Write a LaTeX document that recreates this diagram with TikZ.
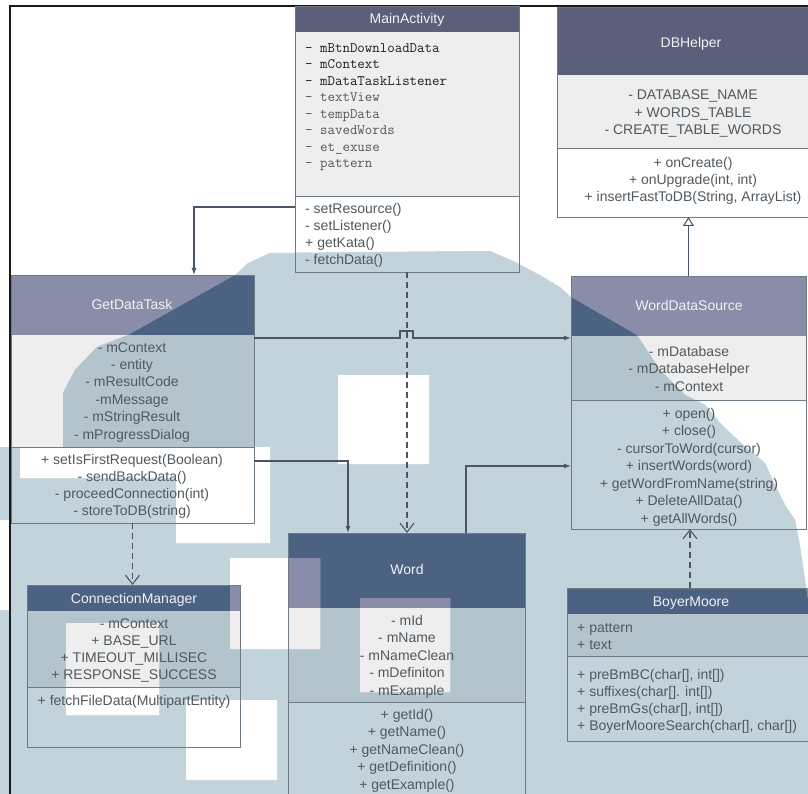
\documentclass[tikz,border=0pt]{standalone}
\usepackage{fontspec}
\setmainfont{Liberation Sans}
\usetikzlibrary{arrows.meta}

% palette
\definecolor{hdrdark}{HTML}{5B5F79}
\definecolor{hdrlight}{HTML}{8A8DA7}
\definecolor{attrbg}{HTML}{EEEEEE}
\definecolor{methbg}{HTML}{FFFFFF}
\definecolor{ovbg}{HTML}{C3D3DB}
\definecolor{ovhdr}{HTML}{4B6282}
\definecolor{ovattr}{HTML}{B4C4CD}
\definecolor{boxline}{HTML}{6E7A84}
\definecolor{connc}{HTML}{4A5666}
\definecolor{txtgray}{HTML}{50595F}
\definecolor{txtdark}{HTML}{1E1E1E}
\definecolor{hdrtext}{HTML}{F0F2F5}
\definecolor{framec}{HTML}{1A1A1A}

% section fills of every class box: #1 top headers, #2 other headers, #3 attributes, #4 methods
\newcommand\boxfills[4]{%
  \fill[#1] (295,6) rectangle (519,32);
  \fill[#3] (295,32) rectangle (519,196);
  \fill[#4] (295,196) rectangle (519,272);
  \fill[#1] (557,7) rectangle (822,75);
  \fill[#3] (557,75) rectangle (822,148);
  \fill[#4] (557,148) rectangle (822,217);
  \fill[#2] (11,275) rectangle (254,335);
  \fill[#3] (11,335) rectangle (254,447);
  \fill[#4] (11,447) rectangle (254,523);
  \fill[#2] (571,276) rectangle (806,336);
  \fill[#3] (571,336) rectangle (806,400);
  \fill[#4] (571,400) rectangle (806,529);
  \fill[#2] (288,533) rectangle (525,608);
  \fill[#3] (288,608) rectangle (525,702);
  \fill[#4] (288,702) rectangle (525,810);
  \fill[#2] (27,585) rectangle (240,611);
  \fill[#3] (27,611) rectangle (240,687);
  \fill[#4] (27,687) rectangle (240,747);
  \fill[#2] (567,588) rectangle (815,614);
  \fill[#3] (567,614) rectangle (815,656);
  \fill[#4] (567,656) rectangle (815,741);
}

% one text line per node: #1 name prefix, #2 x, #3 first baseline, #4 line step, #5 anchor, #6 style, #7 lines
\newcommand\textlines[7]{%
  \foreach \lntxt [count=\i] in {#7}
    \node[#6, anchor=#5] (#1\i) at (#2,{#3+(\i-1)*#4}) {\lntxt};
}

\tikzset{
  box/.style={draw=boxline, line width=0.9pt, inner sep=0pt, outer sep=0pt, anchor=north west},
  divider/.style={draw=boxline, line width=0.9pt},
  txt/.style={font=\fontsize{14}{17}\selectfont, text=txtgray, inner sep=0pt},
  mono/.style={font=\ttfamily\fontsize{14.5}{16}\selectfont, text=txtgray, inner sep=0pt},
  monodark/.style={mono, text=txtdark},
  title/.style={font=\fontsize{14}{17}\selectfont, text=hdrtext, inner sep=0pt, anchor=base},
  conn/.style={draw=connc, line width=1.2pt, -{Latex[length=7pt,width=5pt]}},
  dep/.style={draw=connc, line width=1.1pt, dash pattern=on 6pt off 4pt,
    -{Straight Barb[length=9pt,width=14pt]}},
  inh/.style={draw=connc, line width=1pt, -{Triangle[open,length=9pt,width=11pt,fill=white]}},
  blob/.style={insert path={(270,253) -- (490,251) -- (515,262) -- (540,275) -- (560,287)
    -- (571,297) -- (637,335) -- (660,370) -- (685,395) -- (705,405) -- (722,425)
    -- (740,442) -- (765,463) -- (775,485) -- (785,505) -- (795,520) -- (800,545)
    -- (808,600) -- (808,794) -- (0,794) -- (0,447) -- (63,447) -- (63,393)
    -- (75,370) -- (97,347) -- (128,335) -- (235,275) -- (248,263) -- cycle}},
  holes/.style={insert path={(20,447) rectangle (270,478) (176,447) rectangle (270,543)
    (338,375) rectangle (429,464) (230,558) rectangle (320,649)
    (360,598) rectangle (450,692) (66,623) rectangle (159,715)
    (186,700) rectangle (277,780) (0,520) rectangle (10,610)}}
}

\begin{document}
\begin{tikzpicture}[x=1pt, y=-1pt]
\useasboundingbox (0,0) rectangle (808,794);
\clip (0,0) rectangle (808,794);

% plain sheet and box sections
\fill[white] (0,0) rectangle (808,794);
\boxfills{hdrdark}{hdrlight}{attrbg}{methbg}

% tinted blocky region
\begin{scope}
  \clip[blob];
  \fill[ovbg] (0,0) rectangle (808,794);
  \boxfills{ovhdr}{ovhdr}{ovattr}{ovbg}
\end{scope}

% untinted squares inside it
\begin{scope}
  \clip[holes];
  \fill[white] (0,0) rectangle (808,794);
  \boxfills{hdrdark}{hdrlight}{attrbg}{methbg}
\end{scope}

% sheet frame
\draw[framec, line width=1.8pt] (10,794) -- (10,6) -- (808,6);

% class boxes
\node[box, minimum width=224pt, minimum height=266pt] (mainact) at (295,6) {};
\node[box, minimum width=265pt, minimum height=210pt] (dbh) at (557,7) {};
\node[box, minimum width=243pt, minimum height=248pt] (gdt) at (11,275) {};
\node[box, minimum width=235pt, minimum height=253pt] (wds) at (571,276) {};
\node[box, minimum width=237pt, minimum height=277pt] (word) at (288,533) {};
\node[box, minimum width=213pt, minimum height=162pt] (cm) at (27,585) {};
\node[box, minimum width=248pt, minimum height=153pt] (bm) at (567,588) {};

% attribute / method separators
\draw[divider] (295,196) -- (519,196);
\draw[divider] (557,148) -- (822,148);
\draw[divider] (11,447) -- (254,447);
\draw[divider] (571,400) -- (806,400);
\draw[divider] (288,702) -- (525,702);
\draw[divider] (27,687) -- (240,687);
\draw[divider] (567,656) -- (815,656);

% MainActivity
\node[title] (mainact-t) at (407,24) {MainActivity};
\textlines{mainact-a}{305}{52.5}{16.45}{base west}{monodark}
  {{- mBtnDownloadData},{- mContext},{- mDataTaskListener}}
\textlines{mainact-b}{305}{101.9}{16.45}{base west}{mono}
  {{- textView},{- tempData},{- savedWords},{- et\_exuse},{- pattern}}
\textlines{mainact-m}{305}{214}{16.7}{base west}{txt}
  {{- setResource()},{- setListener()},{+ getKata()},{- fetchData()}}

% DBHelper
\node[title] (dbh-t) at (691,48) {DBHelper};
\textlines{dbh-a}{693}{100}{17.5}{base}{txt}
  {{- DATABASE\_NAME},{+ WORDS\_TABLE},{- CREATE\_TABLE\_WORDS}}
\textlines{dbh-m}{693}{168}{17}{base}{txt}
  {{+ onCreate()},{+ onUpgrade(int, int)},{+ insertFastToDB(String, ArrayList)}}

% GetDataTask
\node[title] (gdt-t) at (132,309) {GetDataTask};
\textlines{gdt-a}{132}{352}{17.4}{base}{txt}
  {{- mContext},{- entity},{- mResultCode},{-mMessage},{- mStringResult},{- mProgressDialog}}
\textlines{gdt-m}{132}{464}{17.3}{base}{txt}
  {{+ setIsFirstRequest(Boolean)},{- sendBackData()},{- proceedConnection(int)},{- storeToDB(string)}}

% WordDataSource
\node[title] (wds-t) at (689,310) {WordDataSource};
\textlines{wds-a}{689}{356}{17.5}{base}{txt}
  {{- mDatabase},{- mDatabaseHelper},{- mContext}}
\textlines{wds-m}{689}{418}{17.5}{base}{txt}
  {{+ open()},{+ close()},{- cursorToWord(cursor)},{+ insertWords(word)},
   {+ getWordFromName(string)},{+ DeleteAllData()},{+ getAllWords()}}

% Word
\node[title] (word-t) at (407,574) {Word};
\textlines{word-a}{407}{625}{17.6}{base}{txt}
  {{- mId},{- mName},{- mNameClean},{- mDefiniton},{- mExample}}
\textlines{word-m}{407}{719}{17.5}{base}{txt}
  {{+ getId()},{+ getName()},{+ getNameClean()},{+ getDefinition()},{+ getExample()}}

% ConnectionManager
\node[title] (cm-t) at (134,603) {ConnectionManager};
\textlines{cm-a}{134}{628}{17}{base}{txt}
  {{- mContext},{+ BASE\_URL},{+ TIMEOUT\_MILLISEC},{+ RESPONSE\_SUCCESS}}
\textlines{cm-m}{134}{705}{17}{base}{txt}
  {{+ fetchFileData(MultipartEntity)}}

% BoyerMoore
\node[title] (bm-t) at (691,606) {BoyerMoore};
\textlines{bm-a}{577}{632}{17.5}{base west}{txt}
  {{+ pattern},{+ text}}
\textlines{bm-m}{577}{679}{17}{base west}{txt}
  {{+ preBmBC(char[], int[])},{+ suffixes(char[]. int[])},{+ preBmGs(char[], int[])},
   {+ BoyerMooreSearch(char[], char[])}}

% routing points
\coordinate (yA) at (0,207);
\coordinate (xA) at (194,0);
\coordinate (yB) at (0,338);
\coordinate (hopL) at (400,331);
\coordinate (hopR) at (413,331);
\coordinate (yC) at (0,461);
\coordinate (xC) at (348,0);
\coordinate (xD) at (466,0);
\coordinate (yD) at (0,466);
\coordinate (xG) at (690,0);

% associations
\draw[conn] (mainact.west |- yA) -| (xA |- gdt.north);
\draw[conn] (gdt.east |- yB) -- (hopL |- yB) -- (hopL) -- (hopR) -- (hopR |- yB) -- (wds.west |- yB);
\draw[conn] (gdt.east |- yC) -| (xC |- word.north);
\draw[conn] (xD |- word.north) |- (wds.west |- yD);

% dependencies
\draw[dep] (mainact.south) -- (mainact.south |- word.north);
\draw[dep] (gdt.south) -- (gdt.south |- cm.north);
\draw[dep] (xG |- bm.north) -- (xG |- wds.south);

% generalisation
\draw[inh] (wds.north) -- (wds.north |- dbh.south);
\end{tikzpicture}
\end{document}
